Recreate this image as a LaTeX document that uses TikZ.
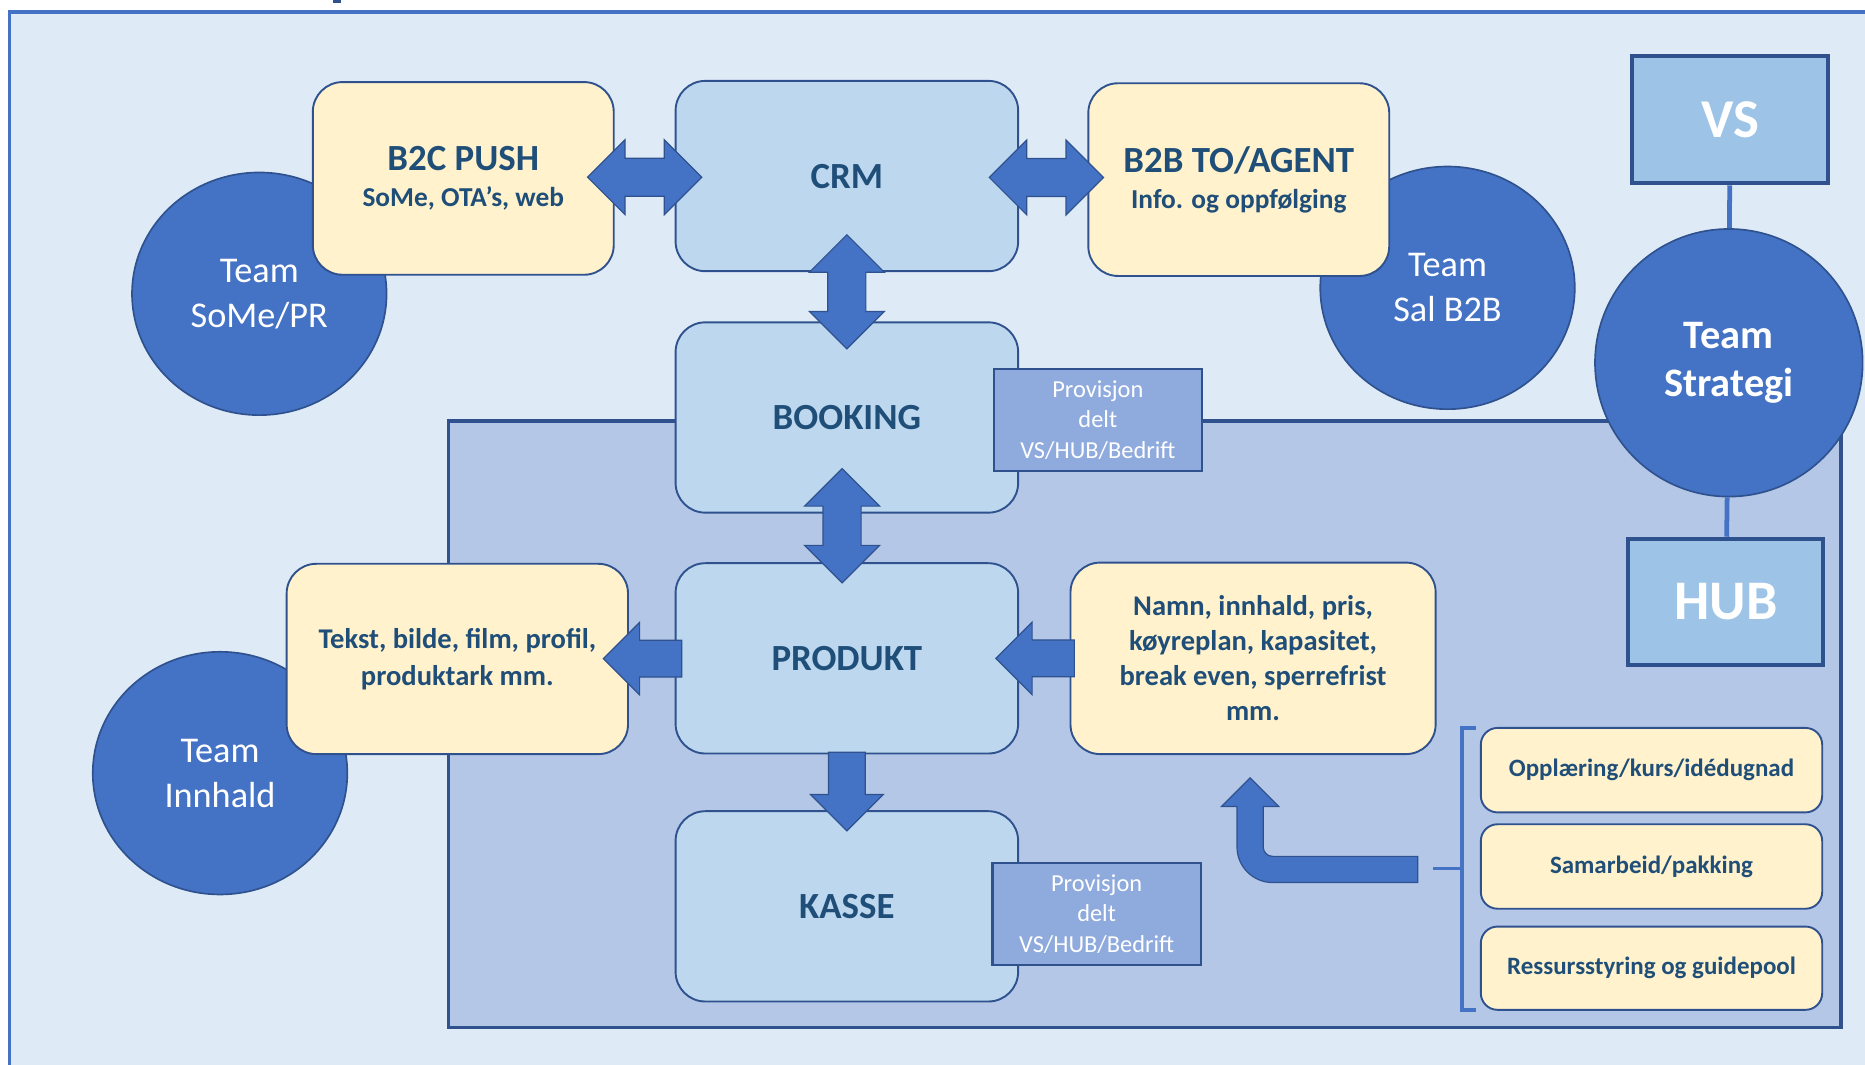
\documentclass[tikz,border=0pt]{standalone}
\usepackage{fontspec}
\setmainfont{Carlito}
\usetikzlibrary{shapes.geometric,shapes.arrows,calc}
\definecolor{frameblue}{HTML}{4472C4}
\definecolor{darkline}{HTML}{2F528F}
\definecolor{paleblue}{HTML}{DEEBF7}
\definecolor{zoneblue}{HTML}{B4C7E7}
\definecolor{stepblue}{HTML}{BDD7EE}
\definecolor{notecream}{HTML}{FFF2CC}
\definecolor{provblue}{HTML}{8FAADC}
\definecolor{topblue}{HTML}{9DC3E6}
\definecolor{inkblue}{HTML}{1F4E79}
\tikzset{
	flow box/.style={draw=darkline, line width=1.6pt, fill=stepblue, rounded corners=25pt,
		minimum width=288pt, minimum height=160pt, text=inkblue,
		font=\fontsize{31}{36}\selectfont\bfseries},
	note box/.style={draw=darkline, line width=1.6pt, fill=notecream, rounded corners=25pt,
		text=inkblue, align=center},
	task box/.style={draw=darkline, line width=1.6pt, fill=notecream, rounded corners=14pt,
		minimum width=287pt, minimum height=71pt, text=inkblue,
		font=\fontsize{21}{25}\selectfont\bfseries},
	team circle/.style={ellipse, draw=darkline, line width=1.4pt, fill=frameblue, text=white,
		minimum width=214pt, minimum height=204pt, align=center,
		font=\fontsize{30.5}{38}\selectfont},
	prov box/.style={draw=darkline, line width=2pt, fill=provblue, text=white, align=center,
		minimum width=175pt, minimum height=86pt, font=\fontsize{20.5}{25.5}\selectfont},
	org box/.style={draw=darkline, line width=3.5pt, fill=topblue, text=white,
		minimum width=165pt, minimum height=107pt, font=\fontsize{46}{50}\selectfont\bfseries},
	twin arrow/.style={double arrow, draw=darkline, line width=1pt, fill=frameblue,
		inner sep=0pt, inner ysep=15.5pt, double arrow head extend=15.5pt, minimum height=96pt},
	one arrow/.style={single arrow, draw=darkline, line width=1pt, fill=frameblue,
		inner sep=0pt, inner ysep=15pt, single arrow head extend=15pt, minimum height=66pt},
}
\begin{document}
\begin{tikzpicture}[x=1pt,y=-1pt]
		\useasboundingbox (0,0) rectangle (1568,895);
		\clip (0,0) rectangle (1568,895);
		\fill[white] (0,0) rectangle (1568,895);
		\fill[darkline] (280,0) rectangle (287,2.5);
		\fill[paleblue] (8,10) rectangle (1600,920);
		\draw[frameblue, line width=3pt] (8,920) -- (8,10) -- (1600,10);
		\draw[darkline, line width=3pt, fill=zoneblue] (377,354) rectangle (1548,864);

		\node[team circle] (somepr) at (218,247) {Team\\SoMe/PR};
		\node[team circle] (salb2b) at (1217,242) {Team\\Sal B2B};
		\node[team circle] (innhald) at (185,650) {Team\\Innhald};

		\node[flow box] (crm) at (712,148) {CRM};
		\node[flow box] (booking) at (712,351) {BOOKING};
		\node[flow box] (produkt) at (712,553.5) {PRODUKT};
		\node[flow box] (kasse) at (712,762) {KASSE};

		\node[note box, minimum width=253pt, minimum height=162pt] (b2c) at (389.5,150)
		{\fontsize{31}{36}\selectfont\bfseries B2C PUSH\\[12pt]
			\fontsize{23}{28}\selectfont\bfseries SoMe, OTA’s, web};
		\node[note box, minimum width=253pt, minimum height=162pt] (b2b) at (1041.5,151)
		{\fontsize{31}{36}\selectfont\bfseries B2B TO/AGENT\\[12pt]
			\fontsize{23}{28}\selectfont\bfseries Info. og oppfølging};
		\node[note box, minimum width=287pt, minimum height=160pt,
		font=\fontsize{24}{31}\selectfont\bfseries] (tekst) at (384.5,554)
		{Tekst, bilde, film, profil,\\produktark mm.};
		\node[note box, minimum width=307pt, minimum height=161pt,
		font=\fontsize{24}{29.5}\selectfont\bfseries] (namn) at (1053.5,553.5)
		{Namn, innhald, pris,\\køyreplan, kapasitet,\\break even, sperrefrist\\mm.};

		\node[prov box] (prov1) at (923,353) {Provisjon\\delt\\VS/HUB/Bedrift};
		\node[prov box] (prov2) at (922,768.5) {Provisjon\\delt\\VS/HUB/Bedrift};

		\node[org box] (vs) at (1454.5,100.5) {VS};
		\node[org box, minimum width=164pt, minimum height=106pt,
		font=\fontsize{47}{50}\selectfont\bfseries] (hub) at (1451,506) {HUB};
		\node[circle, draw=darkline, line width=1.4pt, fill=frameblue, text=white,
		minimum size=225pt, align=center, font=\fontsize{34}{41}\selectfont\bfseries]
		(strategi) at (1453.5,305) {Team\\Strategi};
		\draw[frameblue, line width=4pt] (vs) -- (strategi);
		\draw[frameblue, line width=4pt] (strategi) -- (hub);

		\node[task box] (opp) at (1388.5,647.5) {Opplæring/kurs/idédugnad};
		\node[task box] (sam) at (1388.5,728.5) {Samarbeid/pakking};
		\node[task box, minimum height=70pt] (res) at (1388.5,814) {Ressursstyring og guidepool};
		\draw[frameblue, line width=3pt] (1241,612) -- (1229,612) -- (1229,849) -- (1241,849);
		\draw[frameblue, line width=3pt] (1229,730) -- (1205,730);

		\filldraw[fill=frameblue, draw=darkline, line width=1pt]
		(1192,742) -- (1070,742) .. controls (1053.4,742) and (1040,728.6) .. (1040,712)
		-- (1040,678) -- (1027,678) -- (1051,654) -- (1075,678) -- (1062,678)
		-- (1062,712) .. controls (1062,716.4) and (1065.6,720) .. (1070,720)
		-- (1192,720) -- cycle;

		\node[twin arrow] (b2ccrm) at ($(b2c.east)!.5!(crm.west)$) {};
		\node[twin arrow] (crmb2b) at ($(crm.east)!.4!(b2b.west)$) {};
		\node[twin arrow, rotate=90] (crmbooking) at ($(crm.south)!.4!(booking.north)$) {};
		\node[twin arrow, rotate=90] (bookingprodukt)
		at ($(booking.south)!.25!(produkt.north)+(-4,0)$) {};
		\node[one arrow, rotate=180] (produkttekst) at ($(produkt.west)!.5!(tekst.east)$) {};
		\node[one arrow, rotate=180] (namnprodukt) at ($(namn.west)!.5!(produkt.east)$) {};
		\node[one arrow, rotate=-90] (produktkasse) at ($(produkt.south)!.5!(kasse.north)$) {};
\end{tikzpicture}
\end{document}
